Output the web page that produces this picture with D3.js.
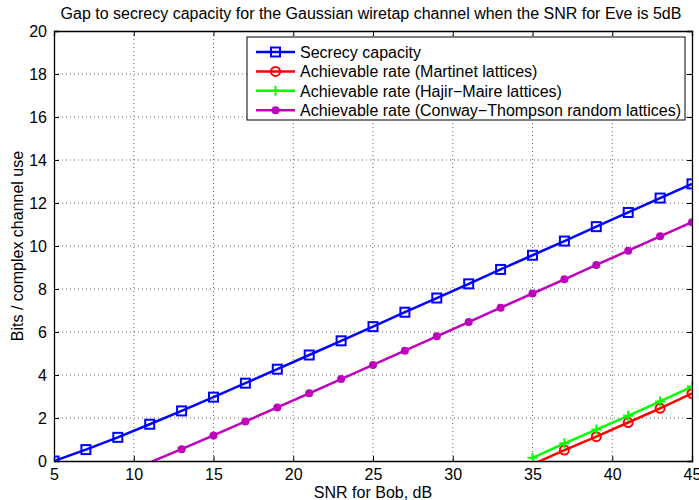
<!DOCTYPE html>
<html>
<head>
<meta charset="utf-8">
<script src="https://cdnjs.cloudflare.com/ajax/libs/d3/7.8.5/d3.min.js"></script>
<style>
body { margin: 0; background: #fff; }
text { font-family: "Liberation Sans", Arial, sans-serif; }
</style>
</head>
<body>
<svg id="chart" width="699" height="500"></svg>
<script>
// SNR for Bob (dB)
var snrCapacity = [5, 7, 9, 11, 13, 15, 17, 19, 21, 23, 25, 27, 29, 31, 33, 35, 37, 39, 41, 43, 45];
var secrecyCapacity = [0, 0.53, 1.10, 1.71, 2.33, 2.97, 3.62, 4.27, 4.93, 5.59, 6.25, 6.92, 7.58, 8.24, 8.91, 9.57, 10.23, 10.90, 11.56, 12.23, 12.89];

var snrConway = [11, 13, 15, 17, 19, 21, 23, 25, 27, 29, 31, 33, 35, 37, 39, 41, 43, 45];
var conwayRate = [-0.07, 0.55, 1.19, 1.84, 2.49, 3.15, 3.81, 4.47, 5.13, 5.80, 6.46, 7.13, 7.79, 8.45, 9.12, 9.78, 10.45, 11.11];

var snrLattice = [35, 37, 39, 41, 43, 45];
var martinetRate = [-0.16, 0.51, 1.13, 1.79, 2.45, 3.14];
var hajirRate = [0.15, 0.82, 1.46, 2.10, 2.77, 3.46];

var xTicks = [5, 10, 15, 20, 25, 30, 35, 40, 45];
var yTicks = [0, 2, 4, 6, 8, 10, 12, 14, 16, 18, 20];

var series = [
    { name: "Secrecy capacity", color: "#0000ff", marker: "square", x: snrCapacity, y: secrecyCapacity },
    { name: "Achievable rate (Martinet lattices)", color: "#ff0000", marker: "circle", x: snrLattice, y: martinetRate },
    { name: "Achievable rate (Hajir\u2212Maire lattices)", color: "#00ff00", marker: "plus", x: snrLattice, y: hajirRate },
    { name: "Achievable rate (Conway\u2212Thompson random lattices)", color: "#bf00bf", marker: "dot", x: snrConway, y: conwayRate }
];

var svg = d3.select("#chart");
var plotLeft = 54, plotRight = 692, plotTop = 31, plotBottom = 461;
var fontSize = 16;

var x = d3.scaleLinear().domain([5, 45]).range([plotLeft, plotRight]);
var y = d3.scaleLinear().domain([0, 20]).range([plotBottom, plotTop]);

svg.append("defs").append("clipPath").attr("id", "plotclip")
    .append("rect").attr("x", plotLeft).attr("y", plotTop)
    .attr("width", plotRight - plotLeft).attr("height", plotBottom - plotTop);

// dotted grid
var grid = svg.append("g").attr("stroke", "#000").attr("stroke-width", 0.6).attr("stroke-dasharray", "1,3");
grid.selectAll(".gx").data(xTicks.slice(1, -1)).enter().append("line")
    .attr("x1", function (d) { return x(d); }).attr("x2", function (d) { return x(d); })
    .attr("y1", plotTop).attr("y2", plotBottom);
grid.selectAll(".gy").data(yTicks.slice(1, -1)).enter().append("line")
    .attr("y1", function (d) { return y(d); }).attr("y2", function (d) { return y(d); })
    .attr("x1", plotLeft).attr("x2", plotRight);

// axes with inward ticks
var xAxis = svg.append("g").attr("transform", "translate(0," + plotBottom + ")")
    .call(d3.axisBottom(x).tickValues(xTicks).tickSize(-5).tickPadding(8));
var xAxisTop = svg.append("g").attr("transform", "translate(0," + plotTop + ")")
    .call(d3.axisTop(x).tickValues(xTicks).tickSize(-5).tickFormat(""));
var yAxis = svg.append("g").attr("transform", "translate(" + plotLeft + ",0)")
    .call(d3.axisLeft(y).tickValues(yTicks).tickSize(-5).tickPadding(7));
var yAxisRight = svg.append("g").attr("transform", "translate(" + plotRight + ",0)")
    .call(d3.axisRight(y).tickValues(yTicks).tickSize(-5).tickFormat(""));

[xAxis, xAxisTop, yAxis, yAxisRight].forEach(function (a) {
    a.select(".domain").attr("stroke", "#000").attr("stroke-width", 1.3);
    a.selectAll(".tick line").attr("stroke", "#000");
    a.selectAll("text").attr("font-size", fontSize).attr("fill", "#000")
        .style("font-family", "'Liberation Sans', Arial, sans-serif");
});

// lines
var plot = svg.append("g").attr("clip-path", "url(#plotclip)");
var line = d3.line()
    .x(function (d) { return x(d[0]); })
    .y(function (d) { return y(d[1]); });

function drawMarker(g, type, color, cx, cy) {
    if (type === "square") {
        g.append("rect").attr("x", cx - 4.5).attr("y", cy - 4.5).attr("width", 9).attr("height", 9)
            .attr("fill", "none").attr("stroke", color).attr("stroke-width", 2);
    } else if (type === "circle") {
        g.append("circle").attr("cx", cx).attr("cy", cy).attr("r", 4.5)
            .attr("fill", "none").attr("stroke", color).attr("stroke-width", 2);
    } else if (type === "plus") {
        g.append("path").attr("d", "M" + (cx - 5) + "," + cy + "H" + (cx + 5) + "M" + cx + "," + (cy - 5) + "V" + (cy + 5))
            .attr("stroke", color).attr("stroke-width", 2);
    } else {
        g.append("circle").attr("cx", cx).attr("cy", cy).attr("r", 4).attr("fill", color);
    }
}

series.forEach(function (s) {
    var pts = s.x.map(function (v, i) { return [v, s.y[i]]; });
    plot.append("path").datum(pts).attr("d", line)
        .attr("fill", "none").attr("stroke", s.color).attr("stroke-width", 2.5);
    var mg = plot.append("g");
    pts.forEach(function (p) {
        if (p[1] >= 0) drawMarker(mg, s.marker, s.color, x(p[0]), y(p[1]));
    });
});

// legend
var lg = svg.append("g");
lg.append("rect").attr("x", 247).attr("y", 37).attr("width", 438).attr("height", 83)
    .attr("fill", "#fff").attr("stroke", "#000").attr("stroke-width", 1);
series.forEach(function (s, i) {
    var ly = 52 + i * 19.4;
    lg.append("line").attr("x1", 256).attr("x2", 295).attr("y1", ly).attr("y2", ly)
        .attr("stroke", s.color).attr("stroke-width", 2.5);
    drawMarker(lg, s.marker, s.color, 275.5, ly);
    lg.append("text").attr("x", 300).attr("y", ly + 6).attr("font-size", fontSize).text(s.name);
});

// titles
svg.append("text").attr("x", 371).attr("y", 19).attr("text-anchor", "middle").attr("font-size", fontSize)
    .text("Gap to secrecy capacity for the Gaussian wiretap channel when the SNR for Eve is 5dB");
svg.append("text").attr("x", 373).attr("y", 498).attr("text-anchor", "middle").attr("font-size", fontSize)
    .text("SNR for Bob, dB");
svg.append("text").attr("transform", "translate(23," + ((plotTop + plotBottom) / 2) + ") rotate(-90)")
    .attr("text-anchor", "middle").attr("font-size", fontSize)
    .text("Bits / complex channel use");
</script>
</body>
</html>
